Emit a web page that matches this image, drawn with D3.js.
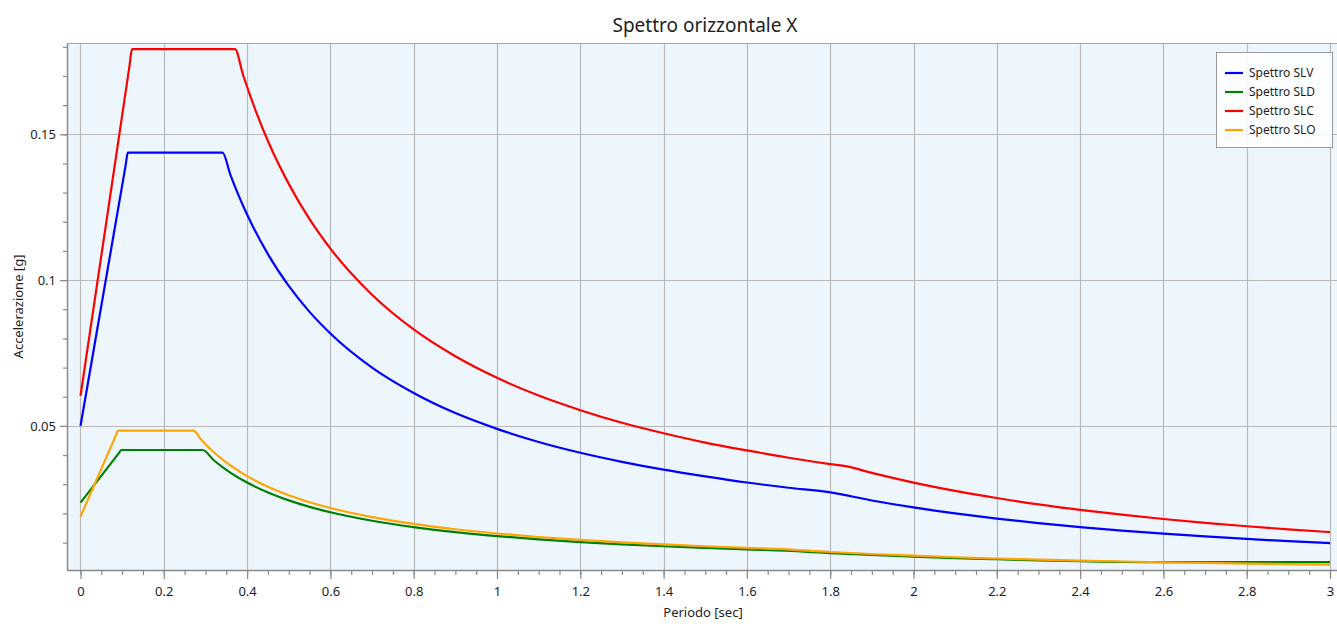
<!DOCTYPE html>
<html><head><meta charset="utf-8">
<script src="https://cdn.jsdelivr.net/npm/d3@7"></script>
<style>
html,body{margin:0;padding:0;background:#fff;}
svg{display:block;font-family:"Noto Sans","Open Sans",sans-serif;}
</style></head>
<body><svg id="chart" width="1337" height="624"></svg>
<script>
// ---- data ----
const seriesNames = ["Spettro SLV","Spettro SLD","Spettro SLC","Spettro SLO"];
const seriesColors = ["#0000ff","#008000","#ff0000","#ffa500"];

const tSLV = [0,0.108,0.1137,0.2,0.341,0.36,0.38,0.4,0.45,0.5,0.55,0.6,0.7,0.8,0.9,1.0,1.1,1.2,1.3,1.4,1.5,1.6,1.7,1.8,1.9,2.0,2.1,2.2,2.3,2.4,2.5,2.6,2.7,2.8,2.9,3.0];
const vSLV = [0.05,0.139,0.1437,0.1437,0.1437,0.1361,0.1289,0.1225,0.1089,0.098,0.0891,0.0817,0.07,0.0613,0.0544,0.049,0.0445,0.0408,0.0377,0.035,0.0327,0.0306,0.0288,0.0272,0.02443,0.02205,0.02,0.01822,0.01667,0.01531,0.01411,0.01305,0.0121,0.01125,0.01049,0.0098];

const tSLD = [0,0.0931,0.098,0.2,0.293,0.32,0.35,0.4,0.45,0.5,0.55,0.6,0.7,0.8,0.9,1.0,1.1,1.2,1.3,1.4,1.5,1.6,1.695,1.8,1.9,2.0,2.1,2.2,2.3,2.4,2.5,2.6,2.7,2.8,2.9,3.0];
const vSLD = [0.0237,0.04085,0.04175,0.04175,0.04175,0.03823,0.03495,0.03058,0.02718,0.02447,0.02224,0.02039,0.01748,0.01529,0.01359,0.01223,0.01112,0.01019,0.00941,0.00874,0.00816,0.00765,0.00722,0.0064,0.00574,0.00518,0.0047,0.00428,0.00392,0.0036,0.00335,0.0033,0.0033,0.0033,0.0033,0.0033];

const tSLC = [0,0.1175,0.1237,0.2,0.371,0.39,0.42,0.45,0.5,0.55,0.6,0.7,0.8,0.9,1.0,1.1,1.2,1.3,1.4,1.5,1.6,1.7,1.8,1.84,1.9,2.0,2.1,2.2,2.3,2.4,2.5,2.6,2.7,2.8,2.9,3.0];
const vSLC = [0.0603,0.1733,0.1792,0.1792,0.1792,0.1705,0.1583,0.1477,0.133,0.1209,0.1108,0.095,0.0831,0.0739,0.0665,0.0604,0.0554,0.0511,0.0475,0.0443,0.0416,0.0391,0.0369,0.03613,0.03388,0.03058,0.02774,0.02528,0.02312,0.02124,0.01957,0.01809,0.01678,0.0156,0.01454,0.01359];

const tSLO = [0,0.0855,0.09,0.2,0.271,0.29,0.32,0.35,0.4,0.45,0.5,0.55,0.6,0.7,0.8,0.9,1.0,1.1,1.2,1.3,1.4,1.5,1.6,1.676,1.8,1.9,2.0,2.1,2.2,2.3,2.4,2.5,2.6,2.7,2.8,2.9,3.0];
const vSLO = [0.0189,0.04693,0.0484,0.0484,0.0484,0.04523,0.04099,0.03747,0.03279,0.02915,0.02623,0.02385,0.02186,0.01874,0.0164,0.01457,0.01312,0.01192,0.01093,0.01009,0.00937,0.00874,0.0082,0.00783,0.00678,0.00609,0.0055,0.00498,0.00454,0.00416,0.00382,0.00352,0.00325,0.00302,0.0028,0.00261,0.00244];

const xMajorTicks = [0,0.2,0.4,0.6,0.8,1,1.2,1.4,1.6,1.8,2,2.2,2.4,2.6,2.8,3];
const yMajorTicks = [0.05,0.1,0.15];
const titleText = "Spettro orizzontale X";
const xTitle = "Periodo [sec]";
const yTitle = "Accelerazione [g]";

// ---- layout ----
const svg = d3.select("#chart");
const L = 67, R = 1337, T = 43, B = 570;
const x = d3.scaleLinear().domain([-0.0324, 3.0168]).range([L, R]);
const y = d3.scaleLinear().domain([0.0006, 0.1813]).range([B, T]);

svg.append("rect").attr("x",L).attr("y",T).attr("width",R-L).attr("height",B-T).attr("fill","#eef6fd");

// grid
const grid = svg.append("g").attr("stroke","#b9b9b9").attr("stroke-width",1.2);
xMajorTicks.forEach(v=>grid.append("line").attr("x1",Math.round(x(v))+0.5).attr("x2",Math.round(x(v))+0.5).attr("y1",T).attr("y2",B));
yMajorTicks.forEach(v=>grid.append("line").attr("y1",Math.round(y(v))+0.5).attr("y2",Math.round(y(v))+0.5).attr("x1",L).attr("x2",R));

// axes
const xMinor = d3.range(0, 3.0001, 0.05);
const yMinor = d3.range(0.01, 0.1801, 0.01);
const xAxisMinor = d3.axisBottom(x).tickValues(xMinor).tickSize(5).tickFormat("");
const xAxisMajor = d3.axisBottom(x).tickValues(xMajorTicks).tickSize(9).tickPadding(8).tickFormat(d3.format("~g"));
const yAxisMinor = d3.axisLeft(y).tickValues(yMinor).tickSize(4).tickFormat("");
const yAxisMajor = d3.axisLeft(y).tickValues(yMajorTicks).tickSize(7).tickPadding(4).tickFormat(d3.format("~g"));

function styleAxis(g){
  g.select(".domain").remove();
  g.selectAll("line").attr("stroke","#8a8a8a").attr("stroke-width",1.2);
  g.selectAll("text").attr("fill","#1e1e1e").attr("font-size",13).attr("font-family","'Noto Sans','Open Sans',sans-serif");
}
svg.append("g").attr("transform",`translate(0,${B})`).call(xAxisMinor).call(styleAxis);
svg.append("g").attr("transform",`translate(0,${B})`).call(xAxisMajor).call(styleAxis);
svg.append("g").attr("transform",`translate(${L},0)`).call(yAxisMinor).call(styleAxis);
svg.append("g").attr("transform",`translate(${L},0)`).call(yAxisMajor).call(styleAxis);

// frame lines
svg.append("line").attr("x1",L).attr("x2",R).attr("y1",B+0.5).attr("y2",B+0.5).attr("stroke","#8a8a8a").attr("stroke-width",1.5);
svg.append("line").attr("x1",L+0.5).attr("x2",L+0.5).attr("y1",T).attr("y2",B).attr("stroke","#8a8a8a").attr("stroke-width",1.5);
svg.append("line").attr("x1",L).attr("x2",R).attr("y1",T+0.5).attr("y2",T+0.5).attr("stroke","#a8a8a8").attr("stroke-width",1.2);

// series
const seriesData = [
  d3.zip(tSLV, vSLV),
  d3.zip(tSLD, vSLD),
  d3.zip(tSLC, vSLC),
  d3.zip(tSLO, vSLO)
];
const line = d3.line().x(d=>x(d[0])).y(d=>y(d[1])).curve(d3.curveMonotoneX);
svg.append("clipPath").attr("id","pc").append("rect").attr("x",L).attr("y",T).attr("width",R-L).attr("height",B-T);
const drawOrder = [1,3,0,2];
drawOrder.forEach(i=>{
  svg.append("path").attr("d",line(seriesData[i])).attr("fill","none")
    .attr("stroke",seriesColors[i]).attr("stroke-width",2.2).attr("stroke-linejoin","round")
    .attr("clip-path","url(#pc)");
});

// legend
const lg = svg.append("g");
lg.append("rect").attr("x",1216.5).attr("y",52.5).attr("width",116).attr("height",95)
  .attr("fill","#ffffff").attr("fill-opacity",0.85).attr("stroke","#9a9a9a").attr("stroke-width",1);
seriesNames.forEach((n,i)=>{
  const cy = 73 + i*19;
  lg.append("line").attr("x1",1225).attr("x2",1243).attr("y1",cy).attr("y2",cy).attr("stroke",seriesColors[i]).attr("stroke-width",2.2);
  lg.append("text").attr("x",1249).attr("y",cy).attr("dy","0.35em").attr("font-size",12).attr("fill","#1e1e1e").text(n);
});

// titles
svg.append("text").attr("x",(L+R)/2+3).attr("y",32).attr("text-anchor","middle").attr("font-size",19).attr("fill","#1e1e1e").text(titleText);
svg.append("text").attr("x",(L+R)/2+1).attr("y",617).attr("text-anchor","middle").attr("font-size",13).attr("fill","#1e1e1e").text(xTitle);
svg.append("text").attr("transform",`translate(23,${(T+B)/2}) rotate(-90)`).attr("text-anchor","middle").attr("font-size",13).attr("fill","#1e1e1e").text(yTitle);
</script>
</body></html>
